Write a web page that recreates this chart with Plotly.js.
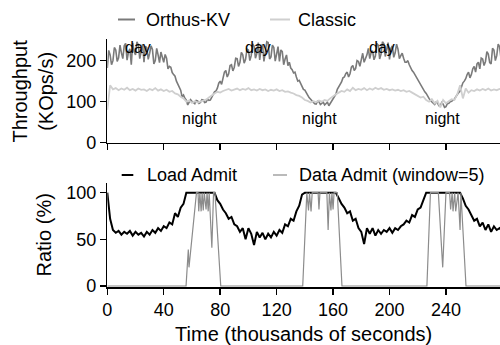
<!DOCTYPE html>
<html>
<head>
<meta charset="utf-8">
<script src="https://cdn.plot.ly/plotly-3.0.1.min.js"></script>
<style>html,body{margin:0;padding:0;background:#fff;}#chart{width:500px;height:345px;}</style>
</head>
<body>
<div id="chart"></div>
<script>
// Time in thousands of seconds (fine grid for Orthus-KV)
const timeFine = [0,1,2,3,4,5,6,7,8,9,10,11,12,13,14,15,16,17,18,19,20,21,22,23,24,25,26,27,28,29,30,31,32,33,34,35,36,37,38,39,40,41,42,43,44,45,46,47,48,49,50,51,52,53,54,55,56,57,58,59,60,61,62,63,64,65,66,67,68,69,70,71,72,73,74,75,76,77,78,79,80,81,82,83,84,85,86,87,88,89,90,91,92,93,94,95,96,97,98,99,100,101,102,103,104,105,106,107,108,109,110,111,112,113,114,115,116,117,118,119,120,121,122,123,124,125,126,127,128,129,130,131,132,133,134,135,136,137,138,139,140,141,142,143,144,145,146,147,148,149,150,151,152,153,154,155,156,157,158,159,160,161,162,163,164,165,166,167,168,169,170,171,172,173,174,175,176,177,178,179,180,181,182,183,184,185,186,187,188,189,190,191,192,193,194,195,196,197,198,199,200,201,202,203,204,205,206,207,208,209,210,211,212,213,214,215,216,217,218,219,220,221,222,223,224,225,226,227,228,229,230,231,232,233,234,235,236,237,238,239,240,241,242,243,244,245,246,247,248,249,250,251,252,253,254,255,256,257,258,259,260,261,262,263,264,265,266,267,268,269,270,271,272,273,274,275,276,277,278,279,280];
// Time in thousands of seconds (coarse grid)
const time = [0,2,4,6,8,10,12,14,16,18,20,22,24,26,28,30,32,34,36,38,40,42,44,46,48,50,52,54,56,58,60,62,64,66,68,70,72,74,76,78,80,82,84,86,88,90,92,94,96,98,100,102,104,106,108,110,112,114,116,118,120,122,124,126,128,130,132,134,136,138,140,142,144,146,148,150,152,154,156,158,160,162,164,166,168,170,172,174,176,178,180,182,184,186,188,190,192,194,196,198,200,202,204,206,208,210,212,214,216,218,220,222,224,226,228,230,232,234,236,238,240,242,244,246,248,250,252,254,256,258,260,262,264,266,268,270,272,274,276,278,280];

// Throughput (KOps/s)
const orthusKV = [
  182,225,214,190,200,232,226,198,207,238,219,205,236,242,201,221,229,190,243,222,
  214,246,238,205,222,240,196,235,231,203,218,236,227,192,200,230,214,195,221,208,
  196,215,206,180,186,184,171,166,162,150,141,136,128,112,116,108,104,92,98,105,
  101,97,95,103,102,96,98,105,104,98,99,106,103,104,110,118,124,126,133,145,
  150,142,158,172,176,160,168,188,190,175,184,206,205,186,196,220,214,194,203,228,
  226,200,212,241,235,206,218,244,202,228,240,198,221,246,244,204,209,238,232,199,
  216,234,198,226,222,190,204,214,188,196,182,178,170,172,160,150,152,145,138,130,
  128,120,116,110,106,101,98,95,94,101,100,93,96,99,92,97,99,90,95,101,
  106,112,118,130,136,142,148,158,160,168,172,160,168,184,188,176,181,200,198,186,
  207,218,196,206,214,230,205,220,224,202,211,242,238,204,216,246,241,210,225,244,
  203,230,236,208,219,240,228,205,212,218,206,196,196,200,190,182,176,172,166,158,
  154,146,142,134,128,124,120,112,108,103,100,96,93,99,97,90,90,98,94,86,
  88,95,96,100,101,104,106,112,118,122,126,138,146,150,156,166,172,158,166,180,
  186,172,192,196,180,206,204,188,198,222,216,195,192,230,226,200,212,240,234,206,
  215];
const classic = [80,140,130,133,128,132,129,134,128,131,127,132,129,130,126,131,128,133,127,130,126,129,124,126,120,118,112,108,100,103,97,101,98,100,103,105,110,116,120,124,122,126,128,131,127,130,132,128,131,129,133,128,130,127,131,128,130,126,129,127,130,126,128,124,125,122,120,116,114,110,104,102,98,101,99,103,100,104,102,108,114,118,122,126,124,130,126,134,128,131,129,133,128,132,129,134,130,133,129,131,128,130,127,129,126,128,124,126,122,118,116,110,112,104,100,106,96,102,86,104,96,100,106,104,118,140,108,132,122,128,126,130,127,131,128,132,127,130,128,131,129];

// Ratio (%)
const loadAdmit = [100,72,60,57,59,55,58,56,59,54,58,55,57,53,58,55,60,57,62,59,64,62,68,66,78,74,84,88,100,100,100,100,100,100,100,100,100,100,100,92,88,82,78,72,74,66,64,58,62,50,62,56,44,58,52,57,50,56,52,58,54,60,57,66,64,72,70,80,86,98,100,100,100,100,100,100,100,100,100,100,100,100,94,88,84,78,80,70,72,62,58,45,62,56,62,54,60,56,60,58,62,57,62,60,64,66,70,68,76,74,82,84,92,100,100,100,100,100,100,100,100,100,100,100,100,100,94,86,82,76,70,72,64,68,60,66,58,64,60,62,58,60];
const dataAdmitTime = [0,55.8,57.4,57.9,63.2,64.3,64.8,65.6,66.5,67.2,68,68.7,70,70.7,71.5,72.2,74.1,75.3,76.3,80.4,138.5,141.4,142.6,143.3,144.4,145.2,149.4,150,150.7,155.6,156.5,157.4,158.5,159.2,160,160.7,163,166.3,226.5,229,234.6,237.7,240,242.6,243.3,244.4,245,246.2,246.9,248.6,250,250.6,254.2,280];
const dataAdmit = [0,0,39,20,100,100,80,100,80,100,81,100,82,100,80,100,41,100,100,0,0,100,81,100,80,100,100,82,100,100,60,100,81,100,82,100,100,0,0,100,100,20,100,100,82,100,80,100,80,100,60,100,0,0];

const xTicks = [0,40,80,120,160,200,240];
const topYTicks = [0,100,200];
const botYTicks = [0,50,100];

const FONT = 'Liberation Sans, Arial, Helvetica, sans-serif';

const traces = [
  {x: timeFine, y: orthusKV, xaxis:'x', yaxis:'y', type:'scatter', mode:'lines', name:'Orthus-KV',
   line:{color:'#7a7a7a', width:1.6}, showlegend:false},
  {x: time, y: classic, xaxis:'x', yaxis:'y', type:'scatter', mode:'lines', name:'Classic',
   line:{color:'#cfcfcf', width:1.8}, showlegend:false},
  {x: time, y: loadAdmit, xaxis:'x2', yaxis:'y2', type:'scatter', mode:'lines', name:'Load Admit',
   line:{color:'#000000', width:2}, showlegend:false},
  {x: dataAdmitTime, y: dataAdmit, xaxis:'x2', yaxis:'y2', type:'scatter', mode:'lines', name:'Data Admit (window=5)',
   line:{color:'#8c8c8c', width:1.2}, showlegend:false}
];

const axisCommon = {
  showline:true, linecolor:'#000', linewidth:1.5, ticks:'outside', ticklen:6, tickwidth:1.5, tickcolor:'#000',
  showgrid:false, zeroline:false, tickfont:{family:FONT, size:18, color:'#000'}
};

const W = 500, H = 345;
const px = v => v / W;
const py = v => 1 - v / H;

const labelFont = {family:FONT, size:18, color:'#000'};
const noteFont = {family:FONT, size:16, color:'#000'};
const titleFont = {family:FONT, size:20, color:'#000'};

const layout = {
  width: W, height: H,
  margin:{l:0, r:0, t:0, b:0},
  paper_bgcolor:'#fff', plot_bgcolor:'#fff',
  font:{family:FONT, size:18, color:'#000'},
  showlegend:false,
  xaxis: Object.assign({}, axisCommon, {domain:[px(107.3),1], anchor:'y', range:[0,278.3], tickvals:xTicks, showticklabels:false}),
  yaxis: Object.assign({}, axisCommon, {domain:[py(142.7), py(39.3)], anchor:'x', range:[0,252], tickvals:topYTicks}),
  xaxis2: Object.assign({}, axisCommon, {domain:[px(107.3),1], anchor:'y2', range:[0,278.3], tickvals:xTicks,
    title:{text:'Time (thousands of seconds)', font:titleFont, standoff:8}}),
  yaxis2: Object.assign({}, axisCommon, {domain:[py(287), py(183.3)], anchor:'x2', range:[-1.07,110.05], tickvals:botYTicks}),
  shapes: [
    {type:'line', xref:'paper', yref:'paper', x0:px(118), x1:px(135), y0:py(19.5), y1:py(19.5), line:{color:'#7a7a7a', width:2}},
    {type:'line', xref:'paper', yref:'paper', x0:px(270), x1:px(290), y0:py(19.5), y1:py(19.5), line:{color:'#cfcfcf', width:2}},
    {type:'line', xref:'paper', yref:'paper', x0:px(121.7), x1:px(133.3), y0:py(175), y1:py(175), line:{color:'#000', width:2}},
    {type:'line', xref:'paper', yref:'paper', x0:px(273), x1:px(287), y0:py(175), y1:py(175), line:{color:'#8c8c8c', width:1.2}}
  ],
  annotations: [
    {text:'Throughput<br>(KOps/s)', xref:'paper', yref:'paper', x:px(32.5), y:py(91), xanchor:'center', yanchor:'middle', textangle:-90, showarrow:false, font:titleFont},
    {text:'Ratio (%)', xref:'paper', yref:'paper', x:px(43.5), y:py(235), xanchor:'center', yanchor:'middle', textangle:-90, showarrow:false, font:titleFont},
    {text:'Orthus-KV', xref:'paper', yref:'paper', x:px(144), y:py(19.5), xanchor:'left', yanchor:'middle', showarrow:false, font:labelFont},
    {text:'Classic', xref:'paper', yref:'paper', x:px(296), y:py(19.5), xanchor:'left', yanchor:'middle', showarrow:false, font:labelFont},
    {text:'Load Admit', xref:'paper', yref:'paper', x:px(144.5), y:py(175), xanchor:'left', yanchor:'middle', showarrow:false, font:labelFont},
    {text:'Data Admit (window=5)', xref:'paper', yref:'paper', x:px(297), y:py(175), xanchor:'left', yanchor:'middle', showarrow:false, font:labelFont},
    {text:'day', xref:'x', yref:'paper', x:21.8, y:py(36.7), showarrow:false, font:noteFont},
    {text:'day', xref:'x', yref:'paper', x:107, y:py(36.7), showarrow:false, font:noteFont},
    {text:'day', xref:'x', yref:'paper', x:194.7, y:py(36.7), showarrow:false, font:noteFont},
    {text:'night', xref:'x', yref:'y', x:65, y:57.8, showarrow:false, font:noteFont},
    {text:'night', xref:'x', yref:'y', x:150.7, y:57.8, showarrow:false, font:noteFont},
    {text:'night', xref:'x', yref:'y', x:237.2, y:57.8, showarrow:false, font:noteFont}
  ]
};

Plotly.newPlot('chart', traces, layout, {displayModeBar:false, staticPlot:true});
</script>
</body>
</html>
